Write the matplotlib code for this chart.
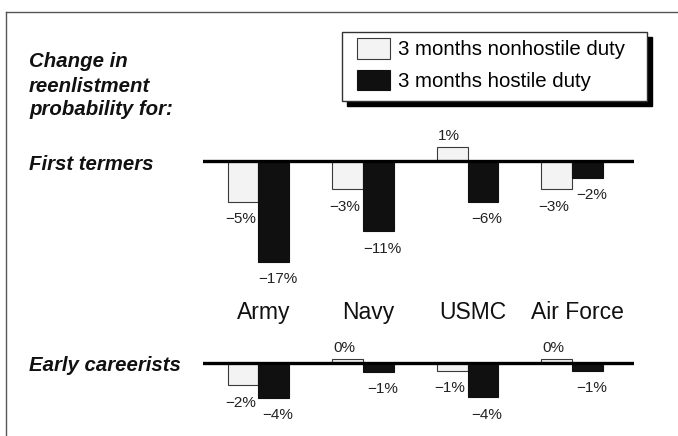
import numpy as np
import matplotlib
matplotlib.use("Agg")
import matplotlib.pyplot as plt
from matplotlib.patches import Rectangle
from matplotlib.lines import Line2D
from matplotlib.transforms import blended_transform_factory

plt.rcParams['font.family'] = ['Liberation Sans', 'DejaVu Sans']

services = ["Army", "Navy", "USMC", "Air Force"]
series_names = ["3 months nonhostile duty", "3 months hostile duty"]

# printed (rounded) changes, in percent
first_nonhostile_pct = [-5, -3, 1, -3]
first_hostile_pct = [-17, -11, -6, -2]
early_nonhostile_pct = [-2, 0, -1, 0]
early_hostile_pct = [-4, -1, -4, -1]

# bar lengths as drawn in the original (they do not follow the rounded labels)
first_nonhostile_bar = [-6.8, -4.7, 2.3, -4.7]
first_hostile_bar = [-16.8, -11.7, -6.8, -2.8]
early_nonhostile_bar = [-3.7, 0.7, -1.3, 0.7]
early_hostile_bar = [-5.8, -1.5, -5.7, -1.3]

W, H = 678, 436
PX = 6.0  # pixels per percentage point


def fig_rect(x0, y0, x1, y1):
    return [x0 / W, 1 - y1 / H, (x1 - x0) / W, (y1 - y0) / H]


def pct_label(v):
    return ("\u2212" if v < 0 else "") + "%d%%" % abs(v)


fig = plt.figure(figsize=(W / 100, H / 100), dpi=100)

white_face, white_edge = "#f3f3f3", "#3a3a3a"
black_face = "#101010"
x = np.arange(len(services))
width = 0.295


def draw_panel(top_px, bottom_px, base_px, bars, pcts):
    ax = fig.add_axes(fig_rect(203, top_px, 634, bottom_px))
    ax.set_xlim(-0.531, 3.593)
    ax.set_ylim(-(bottom_px - base_px) / PX, (base_px - top_px) / PX)
    ax.axis("off")
    b1 = ax.bar(x - width / 2, bars[0], width, color=white_face,
                edgecolor=white_edge, linewidth=0.8, zorder=2)
    b2 = ax.bar(x + width / 2, bars[1], width, color=black_face,
                edgecolor=black_face, linewidth=0.8, zorder=2)
    ax.axhline(0, color="black", linewidth=2.4, zorder=3)
    for bars_i, vals, pcts_i, dx in ((b1, bars[0], pcts[0], -2),
                                    (b2, bars[1], pcts[1], 3)):
        for r, v, p in zip(bars_i, vals, pcts_i):
            cx = r.get_x() + r.get_width() / 2
            dy = 8 if v > 0 else -12.5
            ax.annotate(pct_label(p), (cx, v), xytext=(dx, dy),
                        textcoords="offset points", ha="center",
                        va="center", fontsize=11, color="#222222")
    return ax, b1, b2


ax1, h1, h2 = draw_panel(120, 300, 161,
                         (first_nonhostile_bar, first_hostile_bar),
                         (first_nonhostile_pct, first_hostile_pct))
ax2, _, _ = draw_panel(335, 430, 363,
                       (early_nonhostile_bar, early_hostile_bar),
                       (early_nonhostile_pct, early_hostile_pct))

# service names between the two panels
trans = blended_transform_factory(ax1.transData, fig.transFigure)
for xi, name in zip(x, services):
    ax1.text(xi + 0.05, 1 - 312 / H, name, transform=trans, ha="center",
             va="center", fontsize=16.5, color="#111111", clip_on=False)

# left-hand captions
bold_it = dict(fontsize=14.7, fontweight="bold", fontstyle="italic",
               color="#111111", va="baseline", ha="left")
for txt, ypx in (("Change in", 67), ("reenlistment", 92),
                 ("probability for:", 115), ("First termers", 170),
                 ("Early careerists", 371)):
    fig.text(29 / W, 1 - ypx / H, txt, **bold_it)

# legend with a drop-shadowed box
fig.add_artist(Rectangle((347 / W, 1 - 106 / H), 305 / W, 69 / H,
                         transform=fig.transFigure, facecolor="black",
                         edgecolor="black", zorder=1))
fig.add_artist(Rectangle((342 / W, 1 - 101 / H), 305 / W, 69 / H,
                         transform=fig.transFigure, facecolor="white",
                         edgecolor="#333333", linewidth=1, zorder=2))
fig.legend([h1, h2], series_names, loc="upper left",
           bbox_to_anchor=(357 / W, 1 - 38 / H), frameon=False,
           borderpad=0, borderaxespad=0, handlelength=1.6,
           handleheight=1.2, handletextpad=0.4, labelspacing=0.5,
           fontsize=14.7)

# outer frame
fig.add_artist(Line2D([6 / W, 6 / W], [0, 1 - 12 / H], color="#555555",
                      linewidth=1, transform=fig.transFigure))
fig.add_artist(Line2D([6 / W, 1], [1 - 12 / H, 1 - 12 / H], color="#555555",
                      linewidth=1, transform=fig.transFigure))

fig.savefig("out.png", dpi=100)
